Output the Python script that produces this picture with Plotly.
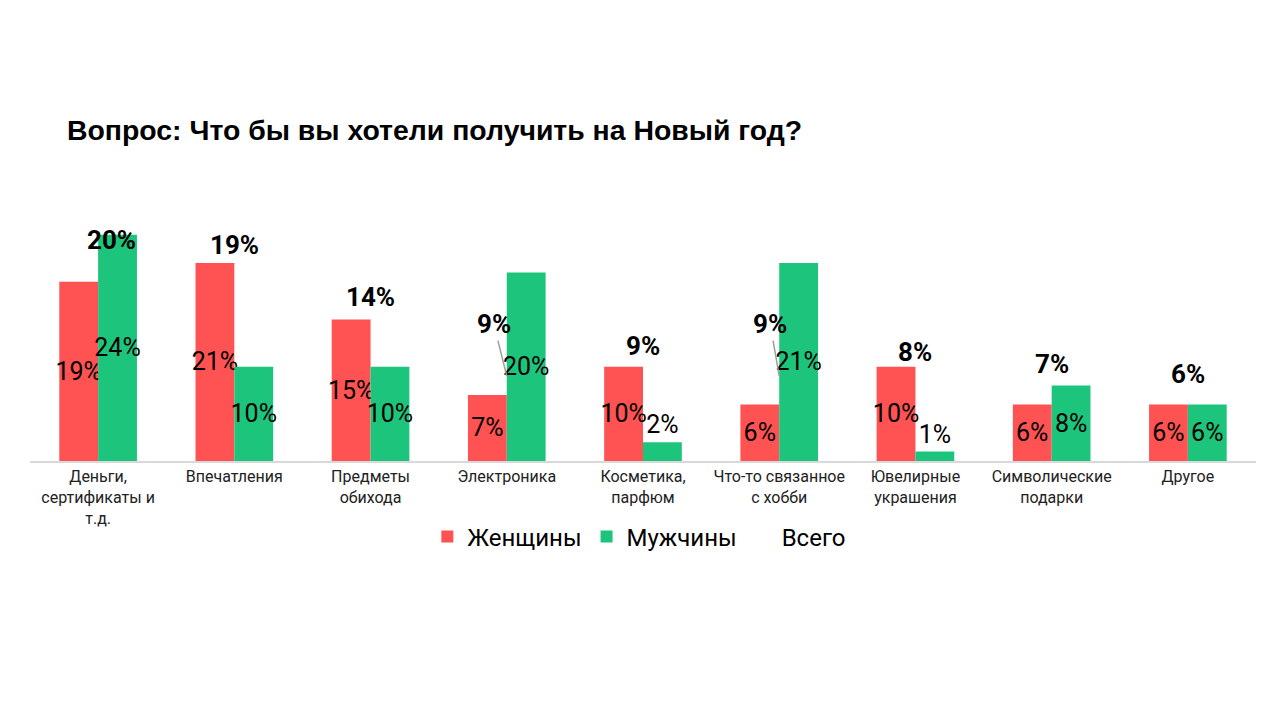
"""
Новогодние подарки: что хотели бы получить (женщины / мужчины / всего)
"""

import plotly.graph_objects as go

# ====================================================
# Data
# ====================================================

categories = [
    "Деньги,<br>сертификаты и<br>т.д.",
    "Впечатления",
    "Предметы<br>обихода",
    "Электроника",
    "Косметика,<br>парфюм",
    "Что-то связанное<br>с хобби",
    "Ювелирные<br>украшения",
    "Символические<br>подарки",
    "Другое",
]

women = [19, 21, 15, 7, 10, 6, 10, 6, 6]
men = [24, 10, 10, 20, 2, 21, 1, 8, 6]
total = [20, 19, 14, 9, 9, 9, 8, 7, 6]

RED = "#FF5252"
GREEN = "#1DC47C"
FONT = "Roboto"

fig = go.Figure()

# ====================================================
# Bars
# ====================================================

for name, values, color in [
    ("Женщины", women, RED),
    ("Мужчины", men, GREEN),
]:

    fig.add_trace(
        go.Bar(
            name=name,
            x=categories,
            y=values,
            marker=dict(color=color, line=dict(width=0)),
            text=[f"{v}%" for v in values],
            textposition=["outside" if v < 3 else "inside" for v in values],
            insidetextanchor="middle",
            textangle=0,
            constraintext="none",
            cliponaxis=False,
            textfont=dict(family=FONT, size=25, color="#000000"),
            insidetextfont=dict(family=FONT, size=25, color="#000000"),
            outsidetextfont=dict(family=FONT, size=25, color="#000000"),
        )
    )

# invisible "Всего" series (legend entry + anchor for labels)
fig.add_trace(
    go.Scatter(
        name="Всего",
        x=categories,
        y=total,
        mode="markers",
        marker=dict(color="rgba(0,0,0,0)", size=1),
        hoverinfo="skip",
    )
)

# ====================================================
# Total labels
# ====================================================

# label offsets (px); two labels are pulled away with a leader line
offsets = [(13, 32, False), (0, 37, False), (0, 32, False),
           (-13, 52, True), (0, 30, False), (-9, 52, True),
           (0, 34, False), (0, 31, False), (0, 30, False)]

for cat, t, (dx, dy, leader) in zip(categories, total, offsets):

    if leader:
        fig.add_annotation(
            x=cat, y=t, text=f"<b>{t}%</b>",
            showarrow=True, arrowhead=0, arrowwidth=1.5,
            arrowcolor="#9E9E9E", ax=dx, ay=-dy, standoff=0,
            font=dict(family=FONT, size=26, color="#000000"),
        )
    else:
        fig.add_annotation(
            x=cat, y=t, text=f"<b>{t}%</b>",
            showarrow=False, xshift=dx, yshift=dy,
            font=dict(family=FONT, size=26, color="#000000"),
        )

# the page body adds an 8px offset, so layout positions are shifted by -8
fig.update_layout(
    width=1280,
    height=720,
    title=dict(
        text="<b>Вопрос: Что бы вы хотели получить на Новый год?</b>",
        x=59 / 1280,
        xanchor="left",
        xref="container",
        y=1 - 122 / 720,
        yref="container",
        yanchor="middle",
        font=dict(family="Liberation Sans, Arial", size=28.4, color="#000000"),
    ),
    paper_bgcolor="white",
    plot_bgcolor="white",
    barmode="group",
    bargap=0.43,
    bargroupgap=0,
    margin=dict(l=22, r=32, t=172, b=267),
    showlegend=True,
    legend=dict(
        orientation="h",
        x=0.497,
        xanchor="center",
        y=-0.27,
        yanchor="middle",
        font=dict(family=FONT, size=24, color="#000000"),
        itemwidth=30,
        traceorder="normal",
    ),
)

fig.update_xaxes(
    showline=True,
    linecolor="#D9D9D9",
    linewidth=2,
    showgrid=False,
    ticks="",
    tickfont=dict(family=FONT, size=16, color="#222222"),
)

fig.update_yaxes(
    range=[0, 29.8],
    visible=False,
    showgrid=False,
    zeroline=False,
)

fig.write_html("out.html")
